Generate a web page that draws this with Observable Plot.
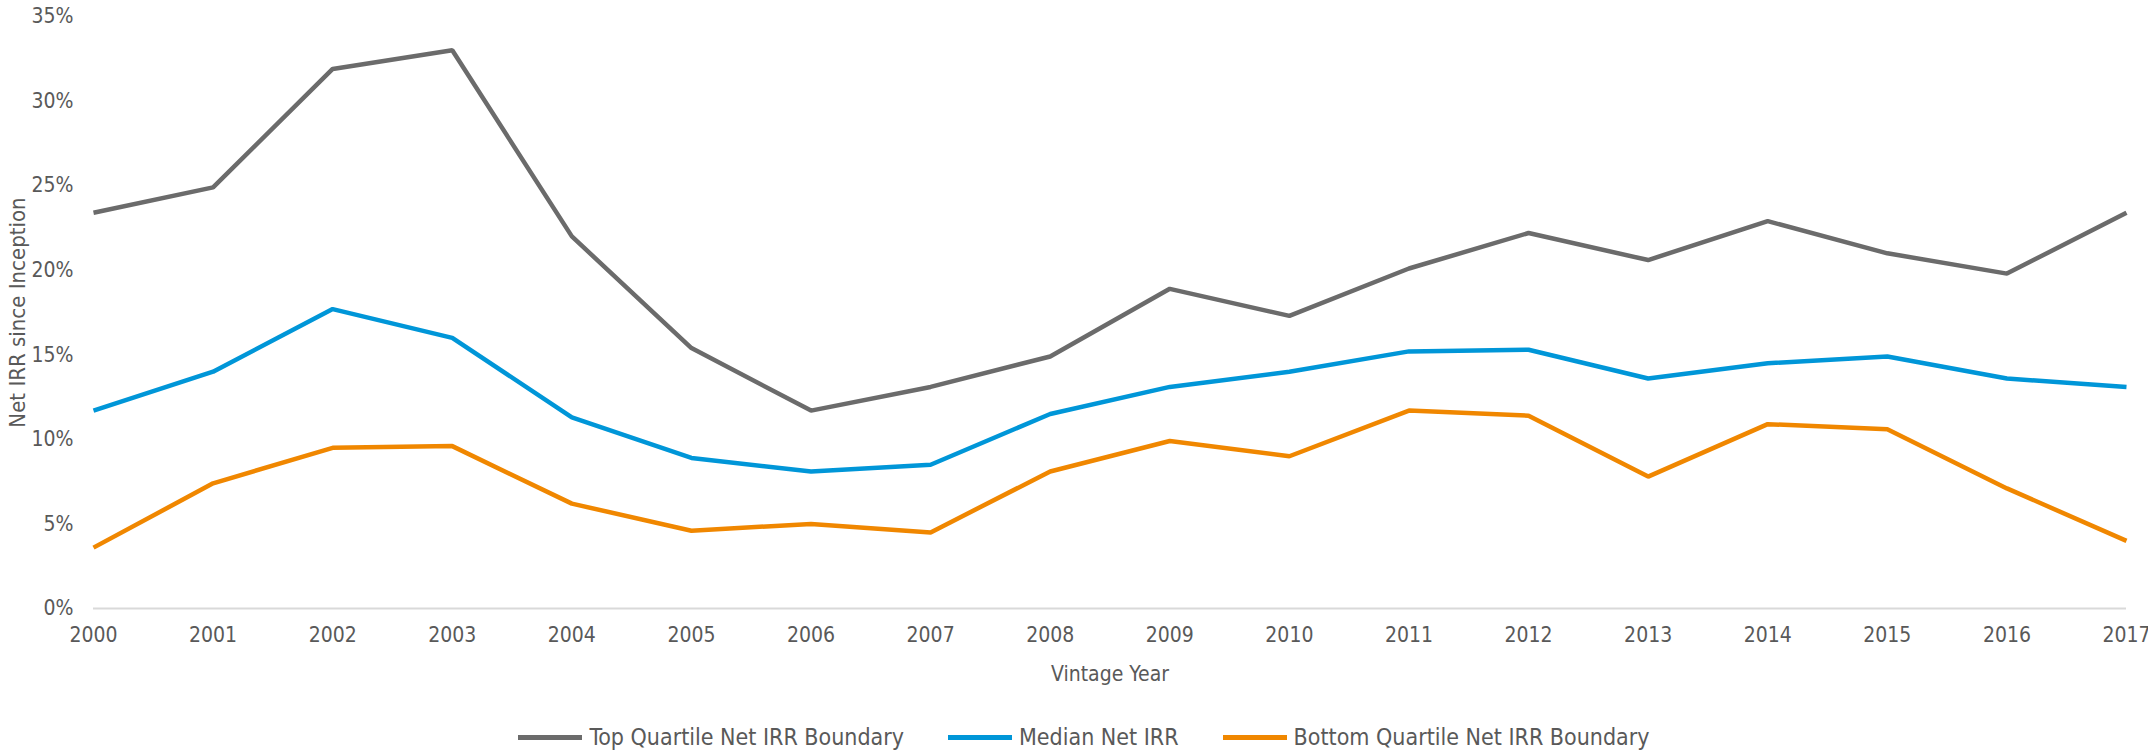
<!DOCTYPE html>
<html><head><meta charset="utf-8">
<script src="https://cdn.jsdelivr.net/npm/d3@7"></script>
<script src="https://cdn.jsdelivr.net/npm/@observablehq/plot@0.6"></script>
<style>
body{margin:0;background:#fff;font-family:"Liberation Sans Narrow","Arial Narrow","DejaVu Sans Condensed",sans-serif;}
#chart svg{display:block;}
#legend{display:flex;justify-content:center;gap:44px;margin-top:22px;height:30px;align-items:center;font-size:23px;color:#595959;padding-left:20px;}
.item{display:flex;align-items:center;}
.sw{width:64px;height:5px;margin-right:7px;}
</style></head><body><div id="chart"></div><div id="legend"></div>
<script>
const years = [2000,2001,2002,2003,2004,2005,2006,2007,2008,2009,2010,2011,2012,2013,2014,2015,2016,2017];
const topQuartile = [23.4,24.9,31.9,33.0,22.0,15.4,11.7,13.1,14.9,18.9,17.3,20.1,22.2,20.6,22.9,21.0,19.8,23.4];
const median = [11.7,14.0,17.7,16.0,11.3,8.9,8.1,8.5,11.5,13.1,14.0,15.2,15.3,13.6,14.5,14.9,13.6,13.1];
const bottomQuartile = [3.6,7.4,9.5,9.6,6.2,4.6,5.0,4.5,8.1,9.9,9.0,11.7,11.4,7.8,10.9,10.6,7.1,4.0];
const seriesNames = ["Top Quartile Net IRR Boundary","Median Net IRR","Bottom Quartile Net IRR Boundary"];
const seriesColors = ["#6b6b6b","#0096d8","#f08700"];
const yTicks = [0,0.05,0.10,0.15,0.20,0.25,0.30,0.35];

const seriesValues = [topQuartile, median, bottomQuartile];
const data = [];
seriesNames.forEach((name, k) => years.forEach((yr, i) => data.push({year: yr, value: seriesValues[k][i] / 100, series: name})));

const font = '"Liberation Sans Narrow","Arial Narrow","DejaVu Sans Condensed",sans-serif';
const chart = Plot.plot({
  width: 2148, height: 700,
  marginLeft: 93, marginRight: 22, marginTop: 16, marginBottom: 92,
  style: {fontFamily: font, fontSize: "21px", color: "#595959", background: "#fff", overflow: "visible"},
  x: {domain: [2000, 2017]},
  y: {domain: [0, 0.35]},
  color: {domain: seriesNames, range: seriesColors},
  marks: [
    Plot.ruleY([0], {stroke: "#d9d9d9", strokeWidth: 2}),
    Plot.axisX({ticks: years, tickFormat: d => String(d), tickSize: 0, tickPadding: 19, label: "Vintage Year", labelAnchor: "center", labelOffset: 72, labelArrow: "none"}),
    Plot.axisY({ticks: yTicks, tickFormat: d3.format(".0%"), tickSize: 0, tickPadding: 20, label: null}),
    Plot.axisY({ticks: [], tickSize: 0, label: "Net IRR since Inception", labelAnchor: "center", labelOffset: 84, labelArrow: "none", fontSize: 22}),
    Plot.line(data, {x: "year", y: "value", z: "series", stroke: "series", strokeWidth: 4.5, strokeLinecap: "butt", strokeLinejoin: "miter"})
  ]
});
document.getElementById("chart").appendChild(chart);

const legend = document.getElementById("legend");
seriesNames.forEach((name, k) => {
  const item = document.createElement("div");
  item.className = "item";
  const sw = document.createElement("span");
  sw.className = "sw";
  sw.style.background = seriesColors[k];
  const t = document.createElement("span");
  t.textContent = name;
  item.appendChild(sw); item.appendChild(t);
  legend.appendChild(item);
});
</script></body></html>
